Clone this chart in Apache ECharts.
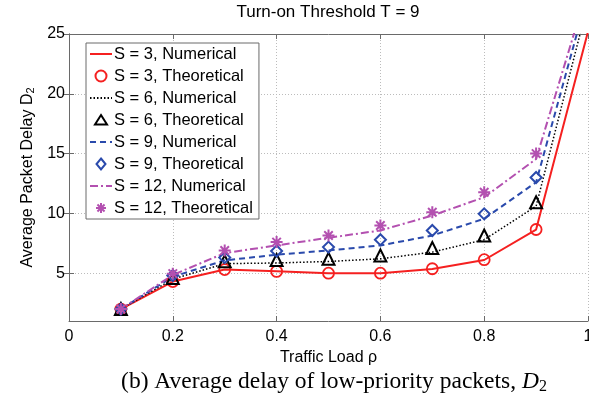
<!DOCTYPE html>
<html>
<head>
<meta charset="utf-8">
<script src="https://cdn.jsdelivr.net/npm/echarts@6/dist/echarts.min.js"></script>
<style>
html,body{margin:0;padding:0;background:#fff;}
#chart{width:589px;height:404px;}
</style>
</head>
<body>
<div id="chart"></div>
<script>
// ---- data ----
var rhoTheo = [0.1, 0.2, 0.3, 0.4, 0.5, 0.6, 0.7, 0.8, 0.9];
var rhoNum  = [0.1, 0.2, 0.3, 0.4, 0.5, 0.6, 0.7, 0.8, 0.9, 1.0];
var s3Num   = [2.0, 4.3, 5.3, 5.15, 5.0, 5.0, 5.35, 6.1, 8.65, 25.2];
var s3Theo  = [2.0, 4.3, 5.3, 5.15, 5.0, 5.0, 5.37, 6.13, 8.65];
var s6Num   = [2.0, 4.5, 5.8, 5.85, 5.98, 6.2, 6.76, 7.8, 10.6, 27.6];
var s6Theo  = [2.0, 4.6, 6.0, 6.1, 6.2, 6.48, 7.1, 8.15, 10.93];
var s9Num   = [2.0, 4.7, 6.07, 6.54, 6.9, 7.32, 8.15, 9.55, 12.6, 28.4];
var s9Theo  = [2.0, 4.8, 6.3, 6.85, 7.18, 7.8, 8.57, 9.96, 13.0];
var s12Num  = [2.0, 4.85, 6.68, 7.32, 7.96, 8.57, 9.82, 11.35, 14.55, 28.9];
var s12Theo = [2.0, 4.96, 6.9, 7.6, 8.15, 8.99, 10.1, 11.77, 15.0];
var xTicks  = [0, 0.2, 0.4, 0.6, 0.8, 1];
var yTicks  = [5, 10, 15, 20, 25];
var names = ['S = 3, Numerical', 'S = 3, Theoretical', 'S = 6, Numerical', 'S = 6, Theoretical',
             'S = 9, Numerical', 'S = 9, Theoretical', 'S = 12, Numerical', 'S = 12, Theoretical'];

function pairs(xs, ys) { return ys.map(function (v, i) { return [xs[i], v]; }); }

var RED = '#f52020', BLACK = '#000000', BLUE = '#2a4aac', MAG = '#b350b0';
var FONT = '"Liberation Sans", Arial, Helvetica, sans-serif';
var ASTER = 'path://M0,-10L0,10M-10,0L10,0M-7.07,-7.07L7.07,7.07M-7.07,7.07L7.07,-7.07';
// legend icons: zero-length corner strokes pin the box so the shape keeps its aspect
var FRAME = 'M-11,-5.5L-11,-5.5M11,5.5L11,5.5';
var LEG_TRI = 'path://' + FRAME + 'M0,-5L6,4.5L-6,4.5Z';
var LEG_DIA = 'path://' + FRAME + 'M0,-5.5L4.5,0L0,5.5L-4.5,0Z';
var LEG_AST = 'path://' + FRAME + 'M0,-5L0,5M-5,0L5,0M-3.54,-3.54L3.54,3.54M-3.54,3.54L3.54,-3.54';
var legendIcons = [null, 'circle', null, LEG_TRI, null, LEG_DIA, null, LEG_AST];

var chart = echarts.init(document.getElementById('chart'), null, {renderer: 'canvas'});
var gridLine = {show: true, lineStyle: {color: '#bcbcbc', type: [1, 2], width: 1}};
var axisLineStyle = {color: '#6a6a6a', width: 1};

function lineSeries(name, ys, color, type, width) {
  return {name: name, type: 'line', data: pairs(rhoNum, ys), symbol: 'none', clip: true,
          lineStyle: {color: color, type: type, width: width}, itemStyle: {color: color},
          animation: false, z: 2};
}
function markSeries(name, ys, color, symbol, size, bw) {
  return {name: name, type: 'scatter', data: pairs(rhoTheo, ys), symbol: symbol, symbolSize: size,
          itemStyle: {color: 'rgba(255,255,255,0)', borderColor: color, borderWidth: bw, opacity: 1},
          animation: false, z: 3};
}

var s12Theo_series = markSeries(names[7], s12Theo, MAG, ASTER, 12, 2);
s12Theo_series.itemStyle.color = MAG;

var legendData = names.map(function (n, i) {
  return i % 2 === 0 ? {name: n, itemStyle: {opacity: 0}} : {name: n, icon: legendIcons[i]};
});

chart.setOption({
  animation: false,
  backgroundColor: '#ffffff',
  textStyle: {fontFamily: FONT},
  grid: {left: 69, right: 1, top: 34, bottom: 83, containLabel: false, outerBoundsMode: 'none'},
  xAxis: [{
    type: 'value', min: 0, max: 1, interval: 0.2, position: 'bottom',
    axisLine: {show: true, lineStyle: axisLineStyle},
    axisTick: {show: true, inside: true, length: 5, lineStyle: axisLineStyle},
    axisLabel: {fontSize: 16, color: '#000', margin: 8, fontFamily: FONT,
                formatter: function (v) { return String(+v.toFixed(1)); }},
    splitLine: gridLine,
    name: 'Traffic Load \u03c1', nameLocation: 'middle', nameGap: 27,
    nameTextStyle: {fontSize: 16, color: '#000', fontFamily: FONT}
  }, {
    type: 'value', min: 0, max: 1, interval: 0.2, position: 'top',
    axisLine: {show: true, lineStyle: axisLineStyle},
    axisTick: {show: true, inside: true, length: 5, lineStyle: axisLineStyle},
    axisLabel: {show: false}, splitLine: {show: false}
  }],
  yAxis: [{
    type: 'value', min: 1, max: 25, position: 'left',
    axisLine: {show: true, lineStyle: axisLineStyle},
    axisTick: {show: true, inside: true, length: 5, lineStyle: axisLineStyle, customValues: yTicks},
    axisLabel: {fontSize: 16, color: '#000', margin: 4, fontFamily: FONT, customValues: yTicks},
    splitLine: gridLine,
    name: 'Average Packet Delay D{sub|2}', nameLocation: 'middle', nameGap: 33, nameRotate: 90,
    nameTextStyle: {fontSize: 16, color: '#000', fontFamily: FONT,
      rich: {sub: {fontSize: 11, color: '#000', fontFamily: FONT, verticalAlign: 'bottom', padding: [6, 0, 0, 0]}}}
  }, {
    type: 'value', min: 1, max: 25, position: 'right',
    axisLine: {show: true, lineStyle: axisLineStyle},
    axisTick: {show: true, inside: true, length: 5, lineStyle: axisLineStyle, customValues: yTicks},
    axisLabel: {show: false, customValues: yTicks}, splitLine: {show: false}
  }],
  legend: {
    orient: 'vertical', left: 86, top: 43,
    data: legendData,
    backgroundColor: '#ffffff', borderColor: '#6a6a6a', borderWidth: 1,
    padding: [2, 6, 2, 3], itemGap: 4, itemWidth: 22, itemHeight: 11,
    textStyle: {fontSize: 16.5, color: '#000', fontFamily: FONT, lineHeight: 18, padding: [0, 0, 0, -3]},
    z: 10
  },
  graphic: [{
    type: 'text', x: 328, y: 12,
    style: {text: 'Turn-on Threshold T = 9', fill: '#000', font: '17px ' + FONT,
            textAlign: 'center', textVerticalAlign: 'middle'}
  }, {
    type: 'text', x: 334, y: 382,
    style: {text: '(b) Average delay of low-priority packets, {i|D}{s|2}', fill: '#000',
            font: '23.5px "Liberation Serif", "Times New Roman", serif',
            textAlign: 'center', textVerticalAlign: 'middle',
            rich: {i: {fontStyle: 'italic', fontSize: 23.5, fontFamily: '"Liberation Serif", serif'},
                   s: {fontSize: 16, fontFamily: '"Liberation Serif", serif', verticalAlign: 'bottom', padding: [9, 0, 0, 0]}}}
  }],
  series: [
    lineSeries(names[0], s3Num, RED, 'solid', 2),
    markSeries(names[1], s3Theo, RED, 'circle', 11, 1.8),
    lineSeries(names[2], s6Num, BLACK, [1.5, 2], 1.5),
    markSeries(names[3], s6Theo, BLACK, 'triangle', 12, 2),
    lineSeries(names[4], s9Num, BLUE, [6, 4], 2),
    markSeries(names[5], s9Theo, BLUE, 'diamond', 11, 2),
    lineSeries(names[6], s12Num, MAG, [8, 3, 2, 3], 2),
    s12Theo_series
  ]
});
</script>
</body>
</html>
